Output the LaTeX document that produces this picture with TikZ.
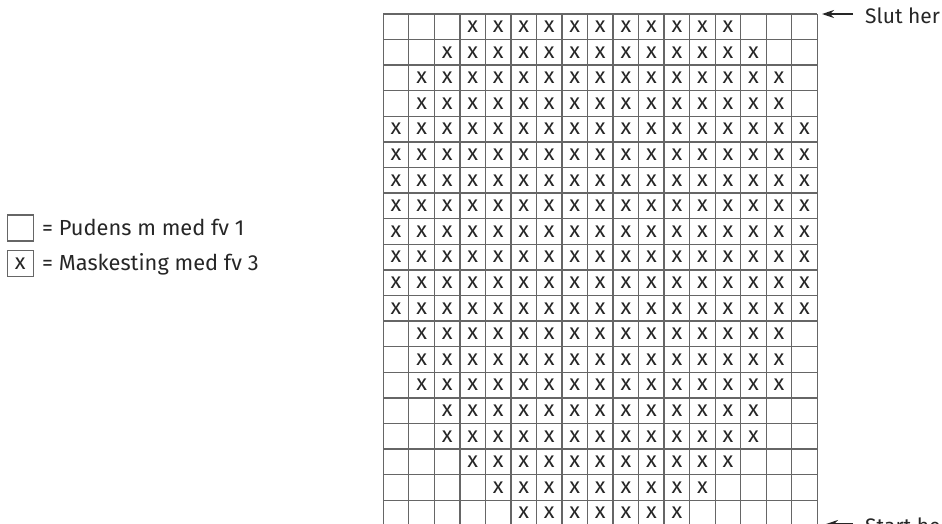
\documentclass[tikz,border=0pt]{standalone}
\usepackage{fontspec}
\setmainfont{Fira Sans}
\usetikzlibrary{arrows.meta}
\begin{document}
\begin{tikzpicture}[x=1pt,y=-1pt,
  gridline/.style={draw=black!60, line width=1.3pt},
  xmark/.style={font=\fontsize{22}{22}\selectfont, inner sep=0pt, text=black!85},
  lbl/.style={font=\fontsize{21.8}{26}\selectfont, inner sep=0pt, anchor=base west, text=black!85},
  legbox/.style={draw=black!60, line width=1.2pt, minimum width=26pt, minimum height=26pt, inner sep=0pt, font=\fontsize{22}{22}\selectfont, text=black!85},
  pointer/.style={draw=black!85, line width=1.4pt, -{Stealth[length=12pt,width=8pt]}}
]
\useasboundingbox (0,0) rectangle (942,523);
\clip (0,0) rectangle (942,523);
\def\cw{25.53}
\def\ch{25.6}
\def\gx{383.3}
\def\gy{13.9}
% grid
\foreach \i in {0,...,17}
  \draw[gridline] (\gx+\i*\cw, \gy) -- (\gx+\i*\cw, 540);
\foreach \j in {0,...,20}
  \draw[gridline] (\gx, \gy+\j*\ch) -- (\gx+17*\cw, \gy+\j*\ch);
% stitches
\foreach \r/\a/\b in {1/4/14, 2/3/15, 3/2/16, 4/2/16, 5/1/17, 6/1/17, 7/1/17, 8/1/17,
  9/1/17, 10/1/17, 11/1/17, 12/1/17, 13/2/16, 14/2/16, 15/2/16, 16/3/15, 17/3/15,
  18/4/14, 19/5/13, 20/6/12}
  \foreach \c in {\a,...,\b}
    \node[xmark] (x-\r-\c) at (\gx+\c*\cw-0.5*\cw, \gy+\r*\ch-0.5*\ch) {x};
% legend
\node[legbox] (box1) at (20.2, 228) {};
\node[legbox] (box2) at (20.2, 263.3) {x};
\node[lbl] (t1) at (42, 235) {= Pudens m med fv 1};
\node[lbl] (t2) at (42, 270) {= Maskesting med fv 3};
% pointers
\node[lbl, font=\fontsize{21}{25}\selectfont] (slut) at (865, 23) {Slut her};
\coordinate (slutp) at (822, 14);
\draw[pointer] ([xshift=-12pt]slut.west |- slutp) -- (slutp);
\node[lbl, font=\fontsize{21}{25}\selectfont] (start) at (865, 533) {Start her};
\coordinate (startp) at (826, 524);
\draw[pointer] ([xshift=-12pt]start.west |- startp) -- (startp);
\end{tikzpicture}
\end{document}
